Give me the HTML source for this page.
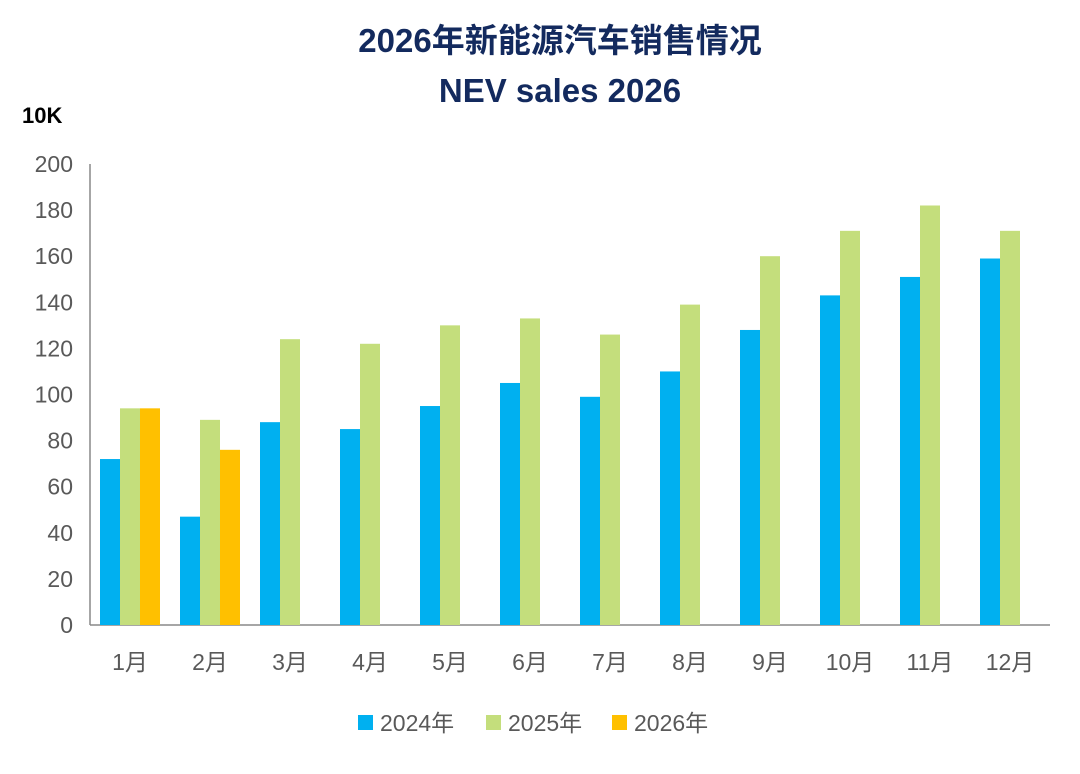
<!DOCTYPE html>
<html><head><meta charset="utf-8"><style>
body{margin:0;background:#fff;font-family:"Liberation Sans","Noto Sans CJK SC",sans-serif;}
</style></head><body>
<svg id="chart" width="1080" height="769" xmlns="http://www.w3.org/2000/svg">
<rect width="1080" height="769" fill="#fff"/>
<text x="560" y="52" text-anchor="middle" font-size="33" font-weight="bold" fill="#132a5e" font-family="Liberation Sans, Noto Sans CJK SC, sans-serif">2026年新能源汽车销售情况</text>
<text x="560" y="102" text-anchor="middle" font-size="33" font-weight="bold" fill="#132a5e" font-family="Liberation Sans, sans-serif">NEV sales 2026</text>
<text x="22" y="123" font-size="22" font-weight="bold" fill="#000" font-family="Liberation Sans, sans-serif">10K</text>
<g id="axes"></g><g id="bars"></g><g id="legend"></g>
</svg>
<script>
const categories=["1月","2月","3月","4月","5月","6月","7月","8月","9月","10月","11月","12月"];
const s2024=[72,47,88,85,95,105,99,110,128,143,151,159];
const s2025=[94,89,124,122,130,133,126,139,160,171,182,171];
const s2026=[94,76,null,null,null,null,null,null,null,null,null,null];
const yTicks=[0,20,40,60,80,100,120,140,160,180,200];
const seriesNames=["2024年","2025年","2026年"];
const colors=["#00b0f0","#c4de7c","#ffc000"];
const NS="http://www.w3.org/2000/svg";
const x0=90,x1=1050,y0=625,yTop=164,bw=20;
const yS=v=>y0-(v/200)*(y0-yTop);
const band=(x1-x0)/categories.length;
const xC=i=>x0+band*(i+0.5);
function mk(t,a,p){const e=document.createElementNS(NS,t);for(const k in a)e.setAttribute(k,a[k]);p.appendChild(e);return e;}
const axes=document.getElementById('axes');
const ya=mk('line',{x1:x0,y1:yTop,x2:x0,y2:y0,stroke:'#888','stroke-width':1.5},axes);


const xa=mk('line',{x1:x0,y1:y0,x2:x1,y2:y0,stroke:'#888','stroke-width':1.5},axes);


yTicks.forEach(v=>{const t=mk('text',{x:73,y:yS(v)+8,'text-anchor':'end','font-size':23,fill:'#595959'},axes);t.textContent=v;

});
categories.forEach((c,i)=>{const t=mk('text',{x:xC(i),y:670,'text-anchor':'middle','font-size':23,fill:'#595959'},axes);t.textContent=c;

});
const bars=document.getElementById('bars');
[s2024,s2025,s2026].forEach((s,k)=>{s.forEach((v,i)=>{if(v==null)return;
const r=mk('rect',{x:xC(i)-30+k*bw,y:yS(v),width:bw,height:y0-yS(v),fill:colors[k]},bars);

});});
const lg=document.getElementById('legend');
const lx=[358,486,612];
seriesNames.forEach((n,k)=>{const g=mk('g',{},lg);


mk('rect',{x:lx[k],y:715,width:15,height:15,fill:colors[k]},g);
const t=mk('text',{x:lx[k]+22,y:731,'font-size':23,fill:'#595959'},g);t.textContent=n;});
</script>
</body></html>
